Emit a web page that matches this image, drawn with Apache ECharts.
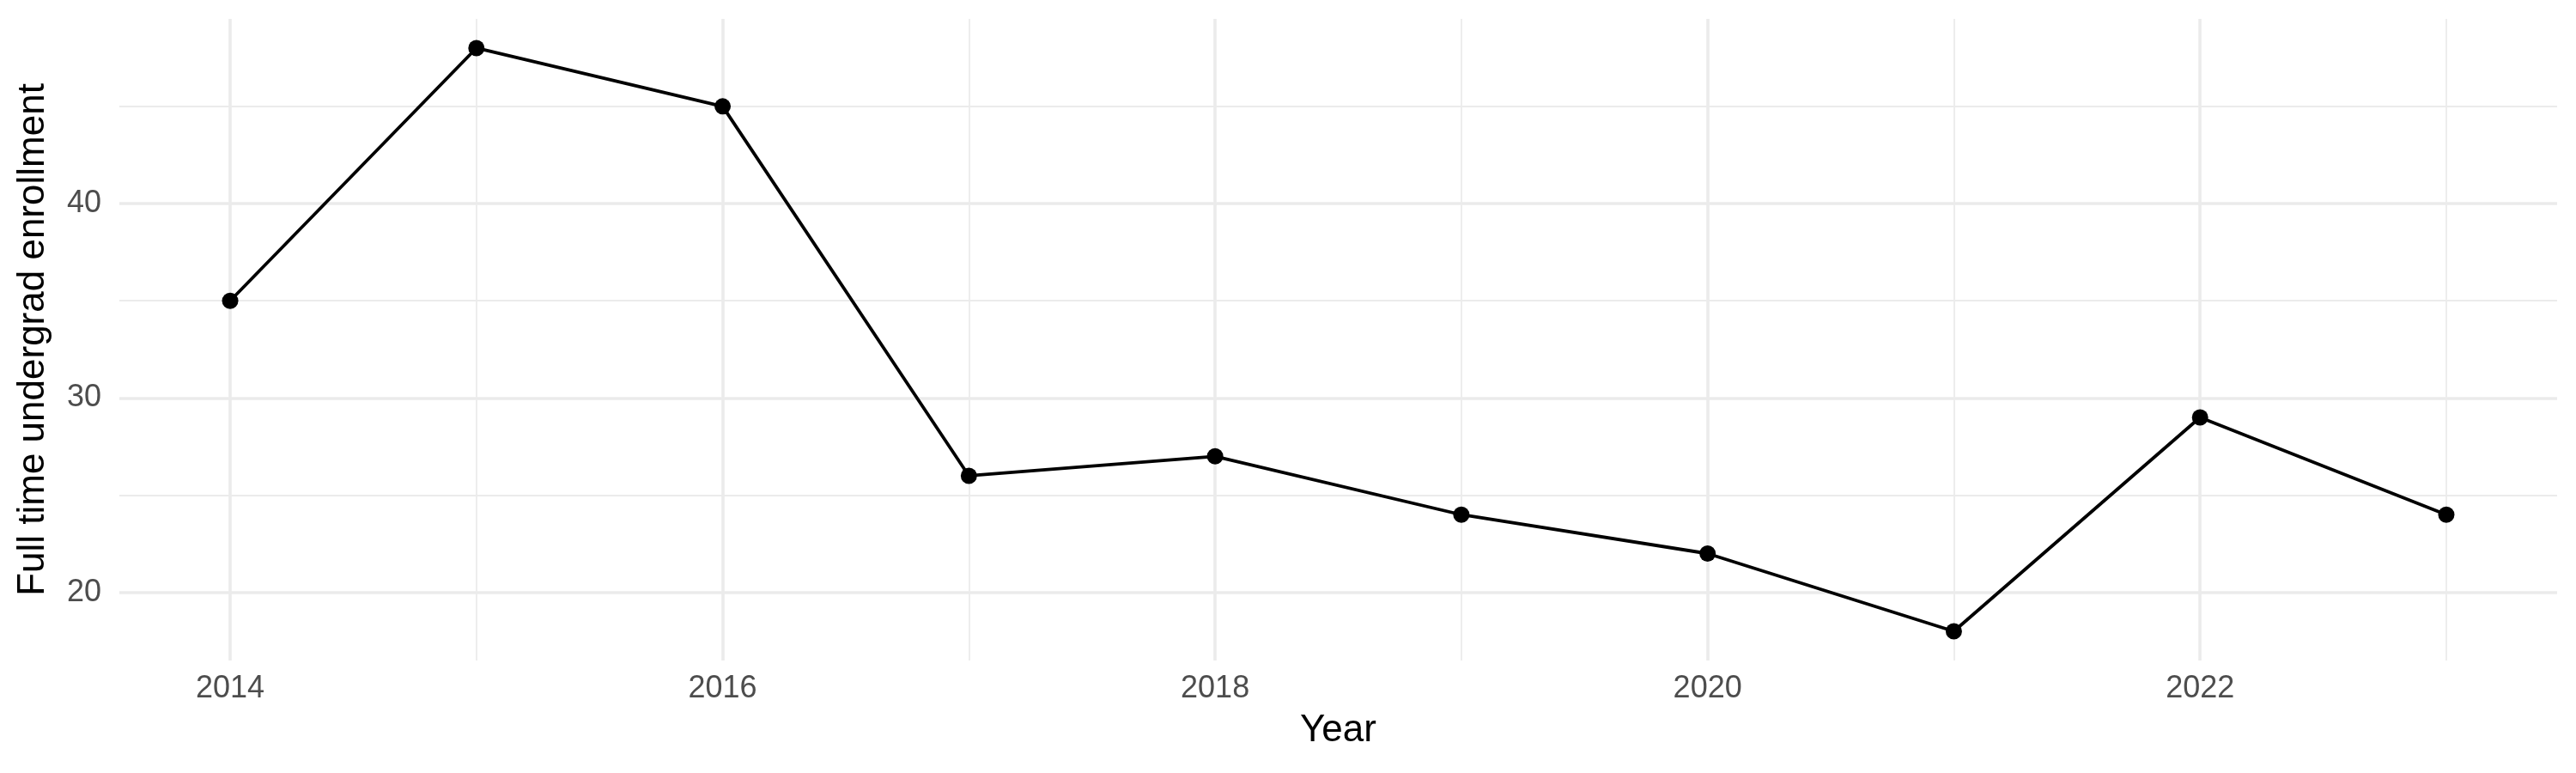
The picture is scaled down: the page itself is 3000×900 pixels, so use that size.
<!DOCTYPE html>
<html>
<head>
<meta charset="utf-8">
<script src="https://cdn.jsdelivr.net/npm/echarts@6/dist/echarts.min.js"></script>
<style>
  html, body { margin: 0; padding: 0; background: #fff; }
  #chart { width: 3000px; height: 900px; }
</style>
</head>
<body>
<div id="chart"></div>
<script>
// 数据
const years = [2014, 2015, 2016, 2017, 2018, 2019, 2020, 2021, 2022, 2023];
const enrollment = [35, 48, 45, 26, 27, 24, 22, 18, 29, 24];

const xTickLabels = [2014, 2016, 2018, 2020, 2022];
const xMinorLines = [2015, 2017, 2019, 2021, 2023];
const yTickLabels = [20, 30, 40];
const yMinorLines = [25, 35, 45];

const fontFamily = '"Liberation Sans", Arial, Helvetica, sans-serif';
const majorStyle = { color: '#ebebeb', width: 3.6, type: 'solid' };
const minorStyle = { color: '#ebebeb', width: 1.8, type: 'solid' };

// 网格线用 markLine 画（ggplot 风格：主/次网格线）
let gridLines = [];
xTickLabels.forEach(v => gridLines.push({ xAxis: v, lineStyle: majorStyle }));
xMinorLines.forEach(v => gridLines.push({ xAxis: v, lineStyle: minorStyle }));
yTickLabels.forEach(v => gridLines.push({ yAxis: v, lineStyle: majorStyle }));
yMinorLines.forEach(v => gridLines.push({ yAxis: v, lineStyle: minorStyle }));

let chart = echarts.init(document.getElementById('chart'), null, { renderer: 'canvas' });

let option = {
    backgroundColor: '#ffffff',
    animation: false,
    grid: {
        left: 139,
        right: 22,
        top: 22,
        bottom: 131
    },
    xAxis: {
        type: 'value',
        min: 2013.55,
        max: 2023.45,
        name: 'Year',
        nameLocation: 'middle',
        nameGap: 60,
        nameTextStyle: { color: '#000', fontSize: 44, fontFamily },
        axisLine: { show: false },
        axisTick: { show: false },
        splitLine: { show: false },
        axisLabel: {
            customValues: xTickLabels,
            color: '#4d4d4d',
            fontSize: 36,
            fontFamily,
            margin: 15,
            formatter: v => String(v)
        }
    },
    yAxis: {
        type: 'value',
        min: 16.5,
        max: 49.5,
        name: 'Full time undergrad enrollment',
        nameLocation: 'middle',
        nameGap: 78,
        nameTextStyle: { color: '#000', fontSize: 44, fontFamily },
        axisLine: { show: false },
        axisTick: { show: false },
        splitLine: { show: false },
        axisLabel: {
            customValues: yTickLabels,
            color: '#4d4d4d',
            fontSize: 36,
            fontFamily,
            margin: 21,
            formatter: v => String(v)
        }
    },
    series: [
        {
            name: 'grid',
            type: 'line',
            data: [],
            z: 1,
            silent: true,
            markLine: {
                silent: true,
                symbol: ['none', 'none'],
                label: { show: false },
                animation: false,
                data: gridLines
            }
        },
        {
            name: 'enrollment',
            type: 'line',
            z: 5,
            data: years.map((y, i) => [y, enrollment[i]]),
            symbol: 'circle',
            symbolSize: 19,
            itemStyle: { color: '#000' },
            lineStyle: { color: '#000', width: 3.8 }
        }
    ]
};

chart.setOption(option);
</script>
</body>
</html>
